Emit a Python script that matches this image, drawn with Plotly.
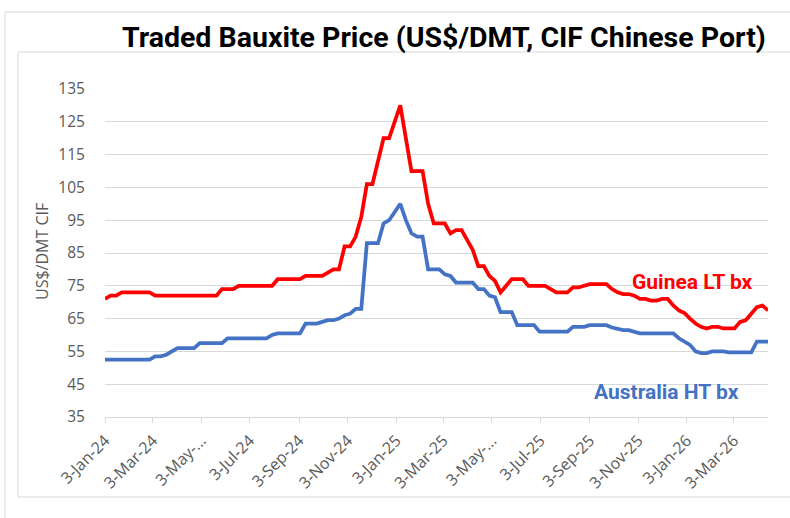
import pandas as pd
import plotly.graph_objects as go

# Weekly observation dates (Wednesdays), 3-Jan-2024 .. 15-Apr-2026
dates = pd.date_range("2024-01-03", periods=120, freq="7D")

guinea_lt = [
    71, 72, 72, 73, 73, 73, 73, 73, 73, 72,
    72, 72, 72, 72, 72, 72, 72, 72, 72, 72,
    72, 74, 74, 74, 75, 75, 75, 75, 75, 75,
    75, 77, 77, 77, 77, 77, 78, 78, 78, 78,
    79, 80, 80, 87, 87, 90, 96, 106, 106, 113,
    120, 120, 125, 130, 120, 110, 110, 110, 100, 94,
    94, 94, 91, 92, 92, 89, 86, 81, 81, 78,
    76.5, 73, 75, 77, 77, 77, 75, 75, 75, 75,
    74, 73, 73, 73, 74.5, 74.5, 75, 75.5, 75.5, 75.5,
    75.5, 74, 73, 72.5, 72.5, 72, 71, 71, 70.5, 70.5,
    71, 71, 69, 67.5, 66.7, 65, 63.5, 62.5, 62, 62.5,
    62.5, 62, 62, 62, 64, 64.5, 66.5, 68.5, 69, 67.5,
]

australia_ht = [
    52.5, 52.5, 52.5, 52.5, 52.5, 52.5, 52.5, 52.5, 52.5, 53.5,
    53.5, 54, 55, 56, 56, 56, 56, 57.5, 57.5, 57.5,
    57.5, 57.5, 59, 59, 59, 59, 59, 59, 59, 59,
    60, 60.5, 60.5, 60.5, 60.5, 60.5, 63.5, 63.5, 63.5, 64,
    64.5, 64.5, 65, 66, 66.5, 68, 68, 88, 88, 88,
    94, 95, 97.5, 100, 95, 91, 90, 90, 80, 80,
    80, 78.5, 78, 76, 76, 76, 76, 74, 74, 72,
    71.5, 67, 67, 67, 63, 63, 63, 63, 61, 61,
    61, 61, 61, 61, 62.5, 62.5, 62.5, 63, 63, 63,
    63, 62.3, 62, 61.5, 61.5, 61, 60.5, 60.5, 60.5, 60.5,
    60.5, 60.5, 60.5, 59, 58, 57, 55, 54.5, 54.5, 55,
    55, 55, 54.7, 54.7, 54.7, 54.7, 54.7, 58, 58, 58,
]

tick_dates = ["2024-01-03", "2024-03-03", "2024-05-03", "2024-07-03", "2024-09-03",
              "2024-11-03", "2025-01-03", "2025-03-03", "2025-05-03", "2025-07-03",
              "2025-09-03", "2025-11-03", "2026-01-03", "2026-03-03"]
tick_labels = ["3-Jan-24", "3-Mar-24", "3-May-...", "3-Jul-24", "3-Sep-24",
               "3-Nov-24", "3-Jan-25", "3-Mar-25", "3-May-...", "3-Jul-25",
               "3-Sep-25", "3-Nov-25", "3-Jan-26", "3-Mar-26"]
y_ticks = [35, 45, 55, 65, 75, 85, 95, 105, 115, 125, 135]

title_text = "Traded Bauxite Price (US$/DMT, CIF Chinese Port)"
y_title = "US$/DMT CIF"
series_names = ["Guinea LT bx", "Australia HT bx"]

RED = "#FF0000"
BLUE = "#4472C4"
GRAY = "#595959"
GRID = "#D9D9D9"

fig = go.Figure()
fig.add_trace(go.Scatter(x=dates, y=guinea_lt, mode="lines", name=series_names[0],
                         line=dict(color=RED, width=3.75)))
fig.add_trace(go.Scatter(x=dates, y=australia_ht, mode="lines", name=series_names[1],
                         line=dict(color=BLUE, width=3.75)))

L, R, T, B = 105, 22, 89, 101
W, H = 790, 518
pw, ph = W - L - R, H - T - B

def px(xp):
    return (xp - L) / pw

def py(yp):
    return (H - B - yp) / ph

fig.update_layout(
    width=W, height=H,
    margin=dict(l=L, r=R, t=T, b=B, pad=0),
    paper_bgcolor="white", plot_bgcolor="white",
    showlegend=False,
    font=dict(family="Open Sans, sans-serif", color=GRAY),
)

fig.update_xaxes(
    range=[dates[0], dates[-1]],
    tickvals=tick_dates, ticktext=tick_labels, tickangle=-45,
    tickfont=dict(size=16, color=GRAY, family="Open Sans, sans-serif"),
    showgrid=False, zeroline=False,
    showline=True, linecolor=GRID, linewidth=1,
    ticks="outside", ticklen=5, tickcolor=GRID, ticklabelstandoff=2,
    automargin=False,
)
fig.update_yaxes(
    range=[35, 135], tickvals=y_ticks,
    tickfont=dict(size=15.5, color=GRAY, family="Open Sans, sans-serif"),
    showgrid=True, gridcolor=GRID, gridwidth=1, zeroline=False,
    showline=False, ticks="outside", ticklen=16, tickcolor="rgba(0,0,0,0)",
    automargin=False,
)

# chart borders
fig.add_shape(type="rect", xref="paper", yref="paper",
              x0=px(5), x1=px(805), y0=py(535), y1=py(12),
              line=dict(color=GRID, width=1), layer="below")
fig.add_shape(type="rect", xref="paper", yref="paper",
              x0=px(18), x1=px(805), y0=py(497), y1=py(52),
              line=dict(color=GRID, width=1), layer="below")

fig.add_annotation(text="<b>" + title_text + "</b>", xref="paper", yref="paper",
                   x=px(444), y=py(38), showarrow=False, xanchor="center", yanchor="middle",
                   font=dict(size=28.5, color="#000000", family="Roboto, sans-serif"))
fig.add_annotation(text=y_title, xref="paper", yref="paper", textangle=-90,
                   x=px(42), y=py(252), showarrow=False, xanchor="center", yanchor="middle",
                   font=dict(size=16, color=GRAY, family="Open Sans, sans-serif"))
fig.add_annotation(text="<b>" + series_names[0] + "</b>", xref="paper", yref="paper",
                   x=px(692), y=py(282), showarrow=False, xanchor="center", yanchor="middle",
                   font=dict(size=21, color=RED, family="Roboto, sans-serif"))
fig.add_annotation(text="<b>" + series_names[1] + "</b>", xref="paper", yref="paper",
                   x=px(666), y=py(392), showarrow=False, xanchor="center", yanchor="middle",
                   font=dict(size=21, color=BLUE, family="Roboto, sans-serif"))

fig.write_html("out.html", config={"displayModeBar": False},
               post_script="document.body.style.margin='0';document.body.style.overflow='hidden';")
